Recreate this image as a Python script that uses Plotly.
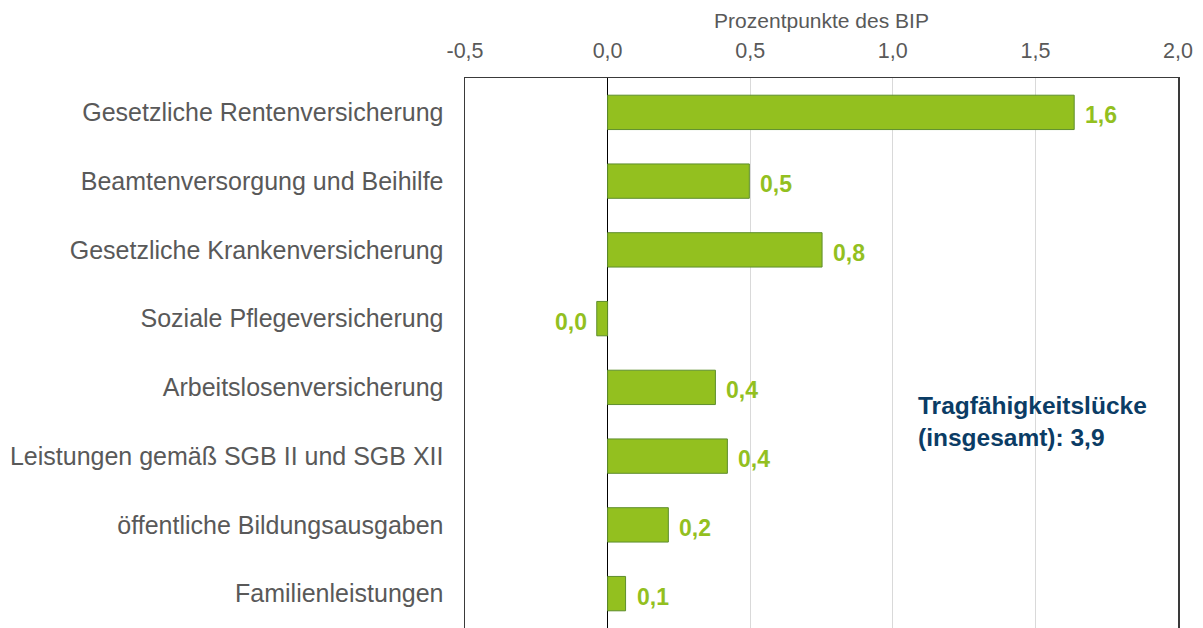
import plotly.graph_objects as go

categories = [
    "Gesetzliche Rentenversicherung",
    "Beamtenversorgung und Beihilfe",
    "Gesetzliche Krankenversicherung",
    "Soziale Pflegeversicherung",
    "Arbeitslosenversicherung",
    "Leistungen gemäß SGB II und SGB XII",
    "öffentliche Bildungsausgaben",
    "Familienleistungen",
]
values = [1.636, 0.497, 0.752, -0.038, 0.378, 0.42, 0.213, 0.063]
labels = ["1,6", "0,5", "0,8", "0,0", "0,4", "0,4", "0,2", "0,1"]
tick_vals = [-0.5, 0.0, 0.5, 1.0, 1.5, 2.0]
tick_text = ["-0,5", "0,0", "0,5", "1,0", "1,5", "2,0"]
total_text = "Tragfähigkeitslücke<br>(insgesamt): 3,9"

GREEN = "#93C01F"
FONT = "Liberation Sans, Arial, sans-serif"

fig = go.Figure(go.Bar(
    y=categories, x=values, orientation="h", width=0.5,
    marker=dict(color=GREEN, line=dict(color="#5E8E2C", width=1)),
    hoverinfo="skip",
))

annotations = []
for c, v, t in zip(categories, values, labels):
    annotations.append(dict(
        x=v, y=c, xref="x", yref="y", text=t, showarrow=False,
        xanchor="left" if v >= 0 else "right",
        xshift=9 if v >= 0 else -8, yshift=-3,
        font=dict(family=FONT, size=23, color=GREEN, weight="bold"),
    ))
annotations.append(dict(
    x=1.08, y=4.5, xref="x", yref="y", text=total_text, showarrow=False,
    xanchor="left", yanchor="middle", align="left",
    font=dict(family=FONT, size=24.5, color="#0B3C65", weight="bold"),
))

fig.update_layout(
    width=1203, height=628,
    margin=dict(l=465, r=25, t=78, b=0),
    paper_bgcolor="white", plot_bgcolor="white",
    showlegend=False,
    font=dict(family=FONT, color="#595959"),
    annotations=annotations,
    xaxis=dict(
        side="top", range=[-0.5, 2.0], tickvals=tick_vals, ticktext=tick_text,
        tickfont=dict(size=21.5, color="#595959"),
        showgrid=True, gridcolor="#D9D9D9", gridwidth=1,
        zeroline=True, zerolinecolor="#000000", zerolinewidth=1,
        showline=True, linecolor="#3A3A3A", linewidth=1.5,
        ticks="", ticklabelstandoff=10,
        title=dict(text="Prozentpunkte des BIP", font=dict(size=21, color="#595959"), standoff=4),
    ),
    yaxis=dict(
        type="category", range=[7.5, -0.5], categoryorder="array", categoryarray=categories,
        tickfont=dict(size=25, color="#595959"),
        showgrid=False, zeroline=False,
        showline=True, mirror=True, linecolor="#3A3A3A", linewidth=1.5,
        ticks="", ticklabelstandoff=15,
    ),
)

fig.write_html(
    "out.html",
    config={"displayModeBar": False, "staticPlot": True},
    post_script="document.body.style.margin='0';document.body.style.overflow='hidden';",
)
